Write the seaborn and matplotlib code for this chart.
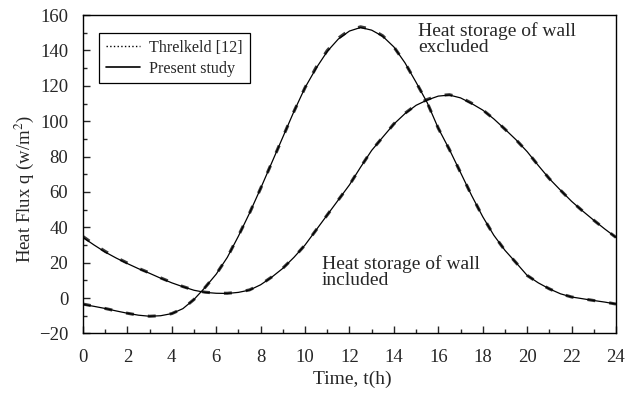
import numpy as np
import pandas as pd
import matplotlib
matplotlib.use("Agg")
import matplotlib.pyplot as plt
from matplotlib.lines import Line2D
import seaborn as sns

# time in hours (half-hour readings)
hours = [0, 0.5, 1, 1.5, 2, 2.5, 3, 3.5, 4, 4.5, 5, 5.5, 6, 6.5, 7, 7.5, 8, 8.5, 9, 9.5,
         10, 10.5, 11, 11.5, 12, 12.5, 13, 13.5, 14, 14.5, 15, 15.5, 16, 16.5, 17, 17.5,
         18, 18.5, 19, 19.5, 20, 20.5, 21, 21.5, 22, 22.5, 23, 23.5, 24]

# Heat storage of wall excluded
excluded_present = [-3.6, -4.7, -5.9, -7.3, -8.6, -9.7, -10.3, -10.0, -8.8, -6.0, -0.8, 6.0,
                    13.5, 23, 35, 48, 62, 76.5, 91, 105.5, 119, 130, 139.5, 146.5, 151,
                    153, 151.5, 148, 142, 133, 122, 110.5, 96, 84, 71, 58, 46, 35.5, 27,
                    20, 12.8, 8.6, 5.2, 2.4, 0.6, -0.4, -1.4, -2.3, -3.4]
excluded_threlkeld = [-3.4, -4.6, -5.9, -7.3, -8.6, -9.7, -10.3, -10.0, -8.8, -6.0, -0.8, 6.0,
                      13.5, 23, 35.2, 48, 62, 76.5, 91, 105.5, 119, 130.5, 140, 147, 151.5,
                      153.4, 152, 148.3, 142, 133, 122, 110.5, 96, 84, 71, 58, 46, 35.5, 27,
                      20, 12.8, 8.6, 5.2, 2.4, 0.6, -0.4, -1.4, -2.3, -3.4]

# Heat storage of wall included
included_present = [34.3, 30, 26, 22.6, 19.5, 16.6, 14, 11.2, 8.6, 6.4, 4.4, 3.2, 2.7, 2.6,
                    3.2, 4.5, 7.5, 11.8, 16.8, 23, 30, 38.5, 47, 55.5, 64, 74, 83.5, 91,
                    98.4, 104.3, 109, 112, 114.2, 114.8, 113.2, 110, 106.3, 101.3, 95.5,
                    89.5, 82.8, 75, 67.5, 61, 54.7, 49.2, 44, 39, 34.3]
included_threlkeld = [34.8, 30.4, 26.4, 22.9, 19.8, 16.8, 14.2, 11.4, 8.8, 6.5, 4.5, 3.3, 2.8,
                      2.7, 3.3, 4.6, 7.6, 11.9, 16.9, 23, 30, 38.5, 47, 55.5, 64, 74, 83.5,
                      91, 98.5, 104.5, 109.2, 112.3, 114.5, 115, 113.5, 110.2, 106.4, 101.3,
                      95.5, 89.5, 82.8, 75, 67.5, 61, 54.7, 49.2, 44, 39, 34.3]

sns.set_style("ticks")
plt.rcParams['font.family'] = ['Liberation Serif', 'DejaVu Serif']
plt.rcParams['mathtext.fontset'] = 'stix'

fig = plt.figure(figsize=(6.38, 3.98), dpi=100)
ax = fig.add_axes([0.130, 0.1623, 0.8355, 0.7997])

rows = []
for name, vals in [("exc_T", excluded_threlkeld), ("inc_T", included_threlkeld),
                   ("exc_P", excluded_present), ("inc_P", included_present)]:
    for h, v in zip(hours, vals):
        rows.append({"t": h, "q": v, "curve": name})
df = pd.DataFrame(rows)

for name in ["exc_T", "inc_T"]:
    sns.lineplot(data=df[df.curve == name], x="t", y="q", ax=ax, color="#3a3a3a",
                 linewidth=2.2, linestyle=(0, (2.6, 4.6)), legend=False, estimator=None)
for name in ["exc_P", "inc_P"]:
    sns.lineplot(data=df[df.curve == name], x="t", y="q", ax=ax, color="black",
                 linewidth=0.9, legend=False, estimator=None)

ax.set_xlim(0, 24)
ax.set_ylim(-20, 160)
ax.set_xticks(range(0, 25, 2))
ax.set_xticks(range(0, 25, 1), minor=True)
ax.set_yticks(range(-20, 161, 20))
ax.set_yticks(range(-20, 161, 10), minor=True)
ax.tick_params(axis='both', which='major', direction='in', length=5, width=1,
               labelsize=13.5, top=False, right=False)
ax.tick_params(axis='x', which='major', pad=11)
ax.tick_params(axis='y', which='major', pad=10.5)
ax.tick_params(axis='both', which='minor', direction='in', length=3, width=1,
               top=False, right=False)
for s in ax.spines.values():
    s.set_linewidth(1.0)
    s.set_color("black")

ax.set_xlabel("Time, t(h)", fontsize=14, va='top')
ax.xaxis.set_label_coords(0.5056, -0.118)
ax.set_ylabel("Heat Flux q (w/m$^2$)", fontsize=13.5)
ax.yaxis.set_label_coords(-0.088, 0.455)

ax.text(15.08, 156, "Heat storage of wall\nexcluded", fontsize=14, va='top', ha='left',
        linespacing=0.9)
ax.text(10.75, 24, "Heat storage of wall\nincluded", fontsize=14, va='top', ha='left',
        linespacing=0.9)

handles = [Line2D([], [], color='black', linestyle=':', linewidth=1.0),
           Line2D([], [], color='black', linestyle='-', linewidth=1.2)]
leg = ax.legend(handles, ["Threlkeld [12]", "Present study"], loc='upper left',
                bbox_to_anchor=(0.030, 0.9435), borderaxespad=0, fontsize=11.6,
                frameon=True, fancybox=False, edgecolor='black', handlelength=2.1,
                borderpad=0.42, labelspacing=0.3, handletextpad=0.6)
leg.get_frame().set_linewidth(0.9)
leg.get_frame().set_alpha(1)

fig.savefig("out.png", dpi=100)
